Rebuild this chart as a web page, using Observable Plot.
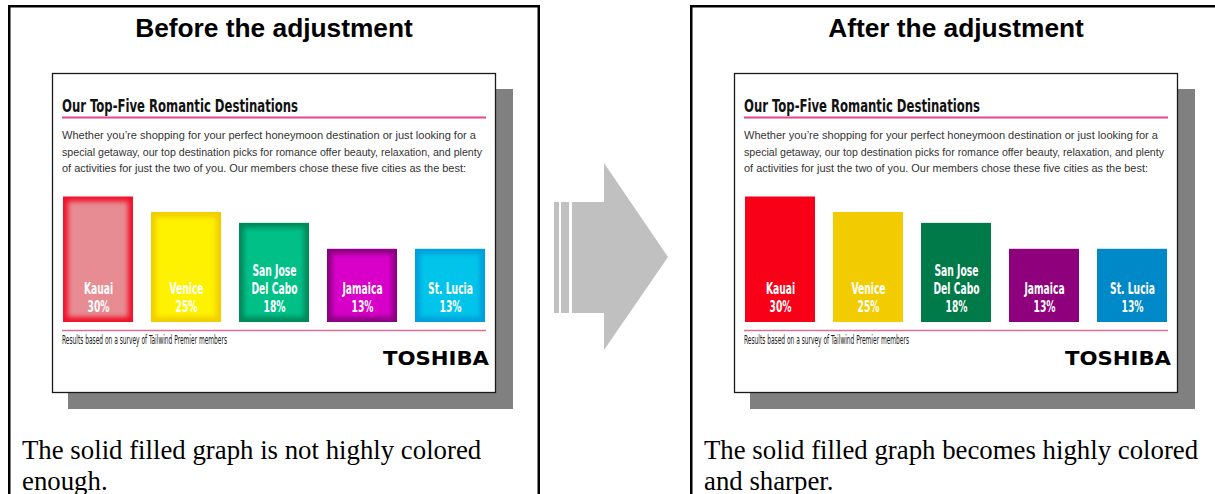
<!DOCTYPE html>
<html>
<head>
<meta charset="utf-8">
<script src="https://cdn.jsdelivr.net/npm/d3@7"></script>
<script src="https://cdn.jsdelivr.net/npm/@observablehq/plot@0.6"></script>
<style>
  html, body { margin: 0; padding: 0; background: #fff; }
  #root { position: relative; width: 1215px; height: 494px; overflow: hidden; background: #fff; }
  #decor { position: absolute; left: 0; top: 0; }
  .plotbox { position: absolute; top: 185px; }
  .plotbox svg { display: block; }
</style>
</head>
<body>
<div id="root">
  <svg id="decor" width="1215" height="494"></svg>
</div>
<script>
// ---- data ----
const cities = ["Kauai", "Venice", "San Jose\nDel Cabo", "Jamaica", "St. Lucia"];
const shares = [30, 25, 18, 13, 13];
// drawn bar heights (same units as the 30% bar)
const barHeights = [30, 26.3, 23.7, 17.5, 17.5];
const beforeEdge = ["#f2102a", "#f1cd00", "#00885a", "#8a0080", "#009fdc"];
const beforeFill = ["#e68c92", "#fff200", "#00c088", "#d800c9", "#00c4ea"];
const afterFill  = ["#f80018", "#f2cc00", "#007a48", "#8e007c", "#0089c8"];

const panelTitles = ["Before the adjustment", "After the adjustment"];
const captions = [
  ["The solid filled graph is not highly colored", "enough."],
  ["The solid filled graph becomes highly colored", "and sharper."]
];
const cardTitle = "Our Top-Five Romantic Destinations";
const paragraph = [
  "Whether you\u2019re shopping for your perfect honeymoon destination or just looking for a",
  "special getaway, our top destination picks for romance offer beauty, relaxation, and plenty",
  "of activities for just the two of you. Our members chose these five cities as the best:"
];
const footnote = "Results based on a survey of Tailwind Premier members";
const brand = "TOSHIBA";

const offsets = [0, 682];
const NARROW = '"Liberation Sans Narrow", "DejaVu Sans Condensed", "Arial Narrow", sans-serif';

// ---- decorative frame (panels, cards, texts, arrow) ----
const decor = d3.select("#decor");
offsets.forEach((ox, i) => {
  const g = decor.append("g").attr("transform", `translate(${ox},0)`);
  g.append("rect").attr("x", 9.25).attr("y", 6.25).attr("width", 529.5).attr("height", 520)
    .attr("fill", "none").attr("stroke", "#000").attr("stroke-width", 2.5);
  g.append("text").attr("x", 274).attr("y", 37).attr("text-anchor", "middle")
    .attr("font-family", '"Liberation Sans", Arial, sans-serif').attr("font-weight", "bold")
    .attr("font-size", 26.3).attr("fill", "#000").text(panelTitles[i]);
  // shadow + card
  g.append("rect").attr("x", 68).attr("y", 89).attr("width", 445).attr("height", 320).attr("fill", "#808080");
  g.append("rect").attr("x", 52.5).attr("y", 73.5).attr("width", 443).attr("height", 319)
    .attr("fill", "#fff").attr("stroke", "#1a1a1a").attr("stroke-width", 1.3);
  g.append("text").attr("x", 62).attr("y", 111.5).attr("font-family", NARROW).attr("font-weight", "bold")
    .attr("font-size", 18).attr("fill", "#111").attr("textLength", 236).attr("lengthAdjust", "spacingAndGlyphs")
    .text(cardTitle);
  g.append("line").attr("x1", 62).attr("x2", 486).attr("y1", 117.5).attr("y2", 117.5)
    .attr("stroke", "#e4468a").attr("stroke-width", 2);
  const lens = [414, 420, 404];
  paragraph.forEach((t, k) => {
    g.append("text").attr("x", 62).attr("y", 139 + k * 16.5)
      .attr("font-family", '"Liberation Sans", Arial, sans-serif').attr("font-size", 10.5)
      .attr("fill", "#333").attr("textLength", lens[k]).attr("lengthAdjust", "spacingAndGlyphs").text(t);
  });
  g.append("line").attr("x1", 62).attr("x2", 486).attr("y1", 330.5).attr("y2", 330.5)
    .attr("stroke", "#d8709a").attr("stroke-width", 1.5);
  g.append("text").attr("x", 62).attr("y", 343.5).attr("font-family", NARROW).attr("font-size", 11.5)
    .attr("fill", "#1a1a1a").attr("textLength", 165).attr("lengthAdjust", "spacingAndGlyphs").text(footnote);
  g.append("text").attr("x", 489).attr("y", 365).attr("text-anchor", "end")
    .attr("font-family", '"DejaVu Sans", sans-serif').attr("font-weight", "bold").attr("font-size", 20)
    .attr("fill", "#000").attr("textLength", 106).attr("lengthAdjust", "spacingAndGlyphs").text(brand);
  captions[i].forEach((t, k) => {
    g.append("text").attr("x", 22).attr("y", 458.5 + k * 31)
      .attr("font-family", '"Liberation Serif", "Times New Roman", serif').attr("font-size", 26.8)
      .attr("fill", "#000").text(t);
  });
});
// arrow
decor.append("path").attr("d", "M572,202H604V163L668,257L604,350V313H572Z").attr("fill", "#c0c0c0");
decor.append("rect").attr("x", 554).attr("y", 202).attr("width", 5).attr("height", 111).attr("fill", "#c0c0c0");
decor.append("rect").attr("x", 561).attr("y", 202).attr("width", 8).attr("height", 111).attr("fill", "#c0c0c0");

// ---- bar charts ----
const rows = cities.map((c, i) => ({
  city: c,
  h: barHeights[i],
  label: c + "\n" + shares[i] + "%",
  edge: beforeEdge[i],
  inner: beforeFill[i],
  solid: afterFill[i]
}));

function chart(before) {
  const marks = [];
  if (before) {
    marks.push(Plot.barY(rows, {x: "city", y: "h", fill: "edge"}));
    marks.push(Plot.barY(rows, {x: "city", y: "h", fill: "inner", inset: 5}));
  } else {
    marks.push(Plot.barY(rows, {x: "city", y: "h", fill: "solid"}));
  }
  marks.push(Plot.text(rows, {
    x: "city", y: 0, text: "label", fill: "white",
    fontFamily: NARROW, fontWeight: "bold", fontSize: 15.5,
    lineAnchor: "bottom", lineHeight: 1.15, dy: -10.5
  }));
  const svg = Plot.plot({
    width: 444, height: 140,
    marginLeft: 10, marginRight: 10, marginTop: 0, marginBottom: 3,
    x: {type: "band", domain: cities, paddingInner: 0.21, paddingOuter: 0, axis: null},
    y: {domain: [0, 30], range: [137, 11.5], axis: null},
    color: {type: "identity"},
    style: {background: "transparent", overflow: "visible"},
    marks
  });
  const s = d3.select(svg);
  // narrow the bar labels to match the condensed face of the original
  s.selectAll('g[aria-label="text"] text').each(function() {
    const t = d3.select(this);
    const tr = t.attr("transform") || "";
    t.attr("transform", tr + " scale(0.66,1)");
  });
  if (before) {
    s.insert("defs", ":first-child").append("filter").attr("id", "soft")
      .attr("x", "-20%").attr("y", "-20%").attr("width", "140%").attr("height", "140%")
      .append("feGaussianBlur").attr("stdDeviation", 2.8);
    const groups = s.selectAll('g[aria-label="bar"]').nodes();
    d3.select(groups[1]).attr("filter", "url(#soft)");
  }
  return svg;
}

const root = document.getElementById("root");
offsets.forEach((ox, i) => {
  const box = document.createElement("div");
  box.className = "plotbox";
  box.style.left = (52 + ox) + "px";
  box.appendChild(chart(i === 0));
  root.appendChild(box);
});
</script>
</body>
</html>
